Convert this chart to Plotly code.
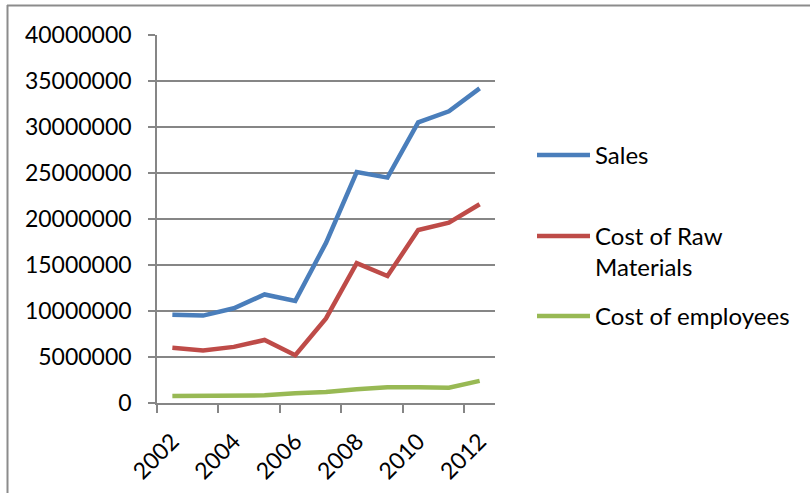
import plotly.graph_objects as go

# Yearly figures
years = [2002, 2003, 2004, 2005, 2006, 2007, 2008, 2009, 2010, 2011, 2012]
sales = [9600000, 9500000, 10300000, 11800000, 11100000, 17400000,
         25100000, 24500000, 30500000, 31700000, 34200000]
raw_materials = [6000000, 5700000, 6100000, 6850000, 5200000, 9200000,
                 15200000, 13800000, 18800000, 19600000, 21600000]
employees = [760000, 760000, 760000, 830000, 1050000, 1200000,
             1500000, 1700000, 1700000, 1650000, 2400000]

series_names = ["Sales", "Cost of Raw<br>Materials", "Cost of employees"]
series_values = [sales, raw_materials, employees]
series_colors = ["#4A7EBB", "#BE4B48", "#98B954"]

y_ticks = [0, 5000000, 10000000, 15000000, 20000000, 25000000,
           30000000, 35000000, 40000000]
x_labels = [2002, 2004, 2006, 2008, 2010, 2012]

W, H = 810, 493
ML, MR, MT, MB = 157, 315, 35, 90
PW, PH = W - ML - MR, H - MT - MB

FONT = "Lato"
GRID = "#868686"


def px_x(px):
    return (px - ML) / PW


def px_y(py):
    return (H - MB - py) / PH


fig = go.Figure()
for name, vals, col in zip(series_names, series_values, series_colors):
    fig.add_trace(go.Scatter(
        x=years, y=vals, mode="lines", name=name.replace("<br>", " "),
        line=dict(color=col, width=4.5), showlegend=False,
    ))

# Legend drawn as key lines with labels beside the plot
legend_rows = [155, 236, 316]
shapes = []
annotations = []
for name, col, row in zip(series_names, series_colors, legend_rows):
    shapes.append(dict(type="line", xref="paper", yref="paper",
                       x0=px_x(537), x1=px_x(590), y0=px_y(row), y1=px_y(row),
                       line=dict(color=col, width=4.5)))
    annotations.append(dict(xref="paper", yref="paper", x=px_x(593),
                            y=px_y(row - 17), xanchor="left", yanchor="top",
                            text=name, showarrow=False, align="left",
                            font=dict(family=FONT, size=24, color="#000000")))

# Outer chart frame (top and left edges)
shapes.append(dict(type="line", xref="paper", yref="paper",
                   x0=px_x(7), x1=px_x(W + 5), y0=px_y(5.5), y1=px_y(5.5),
                   line=dict(color="#8C8C8C", width=2)))
shapes.append(dict(type="line", xref="paper", yref="paper",
                   x0=px_x(7.5), x1=px_x(7.5), y0=px_y(5), y1=px_y(H + 5),
                   line=dict(color="#8C8C8C", width=2)))

fig.update_layout(
    width=W, height=H,
    margin=dict(l=ML, r=MR, t=MT, b=MB),
    paper_bgcolor="white", plot_bgcolor="white",
    font=dict(family=FONT, size=23, color="#000000"),
    shapes=shapes, annotations=annotations,
    xaxis=dict(
        range=[years[0] - 0.5, years[-1] + 0.5], automargin=False,
        tickvals=x_labels, ticktext=[str(v) for v in x_labels],
        tickangle=-45, ticks="", showgrid=False, zeroline=False,
        showline=True, linecolor=GRID, linewidth=1.5,
        minor=dict(tickmode="linear", tick0=years[0] - 0.5, dtick=2,
                   ticks="outside", ticklen=8, tickwidth=1.5,
                   tickcolor=GRID, showgrid=False),
        ticklabelstandoff=14,
        tickfont=dict(family=FONT, size=23),
    ),
    yaxis=dict(
        range=[0, 40000000], tickvals=y_ticks, automargin=False,
        ticktext=[str(v) for v in y_ticks],
        showgrid=True, gridcolor=GRID, gridwidth=1.5, zeroline=False,
        showline=True, linecolor=GRID, linewidth=1.5,
        ticks="outside", ticklen=7, tickwidth=1.5, tickcolor=GRID,
        ticklabelstandoff=12,
        tickfont=dict(family=FONT, size=23),
    ),
)

fig.write_html("out.html")
